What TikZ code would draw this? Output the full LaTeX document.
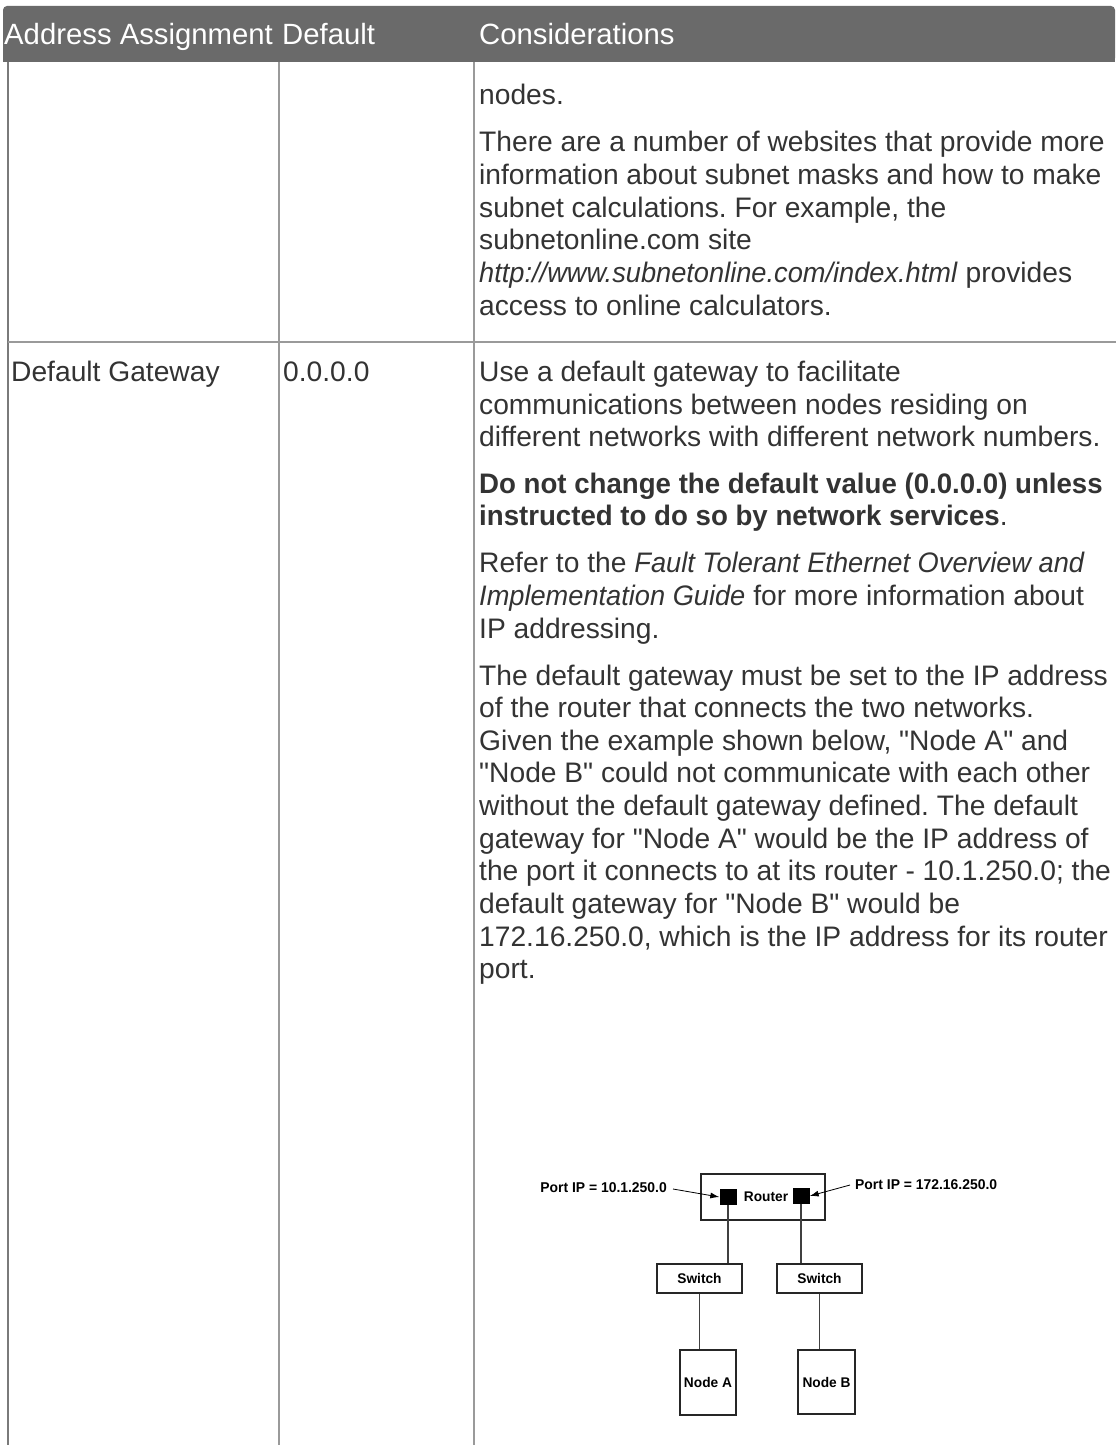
\documentclass[tikz,border=0pt]{standalone}
\usepackage{fontspec}
\setmainfont{Liberation Sans}[Ligatures=TeXOff,
  BoldFeatures={FakeStretch=0.98},
  ItalicFeatures={FakeStretch=0.965}]
\usetikzlibrary{arrows.meta}
\frenchspacing

\definecolor{hdrgray}{HTML}{6A6A6A}
\definecolor{bodytext}{HTML}{333333}
\definecolor{rulegray}{HTML}{9A9A9A}
\definecolor{edgegray}{HTML}{7A7A7A}

\tikzset{
  bodyline/.style={anchor=base west, inner sep=0pt, text=bodytext,
    font=\fontsize{28.2}{33}\selectfont},
  hdrline/.style={anchor=base west, inner sep=0pt, text=white,
    font=\fontsize{29.3}{33}\selectfont},
  gridrule/.style={draw=rulegray, line width=1.1pt},
  netbox/.style={draw=black!85, line width=1.2pt, fill=white, inner sep=0pt,
    font=\fontsize{14}{16}\selectfont\bfseries},
  portsq/.style={fill=black, inner sep=0pt, minimum width=17pt, minimum height=16pt},
  netlink/.style={draw=black!75, line width=1.2pt},
  portarrow/.style={draw=black, line width=0.8pt, -{Latex[length=9pt,width=6pt]}},
  netlabel/.style={inner sep=0pt, font=\fontsize{14.2}{16}\selectfont\bfseries},
}

\begin{document}
\begin{tikzpicture}[x=1pt, y=-1pt]
\useasboundingbox (0,0) rectangle (1116,1445);
\fill[white] (0,0) rectangle (1116,1445);

% header band
\fill[hdrgray, rounded corners=4pt] (3,62) -- (3,6) -- (1115,6) -- (1115,62) [sharp corners] -- cycle;
\fill[hdrgray] (3,40) rectangle (1115,62);
\node[hdrline] (h1) at (4,45) {Address Assignment};
\node[hdrline] (h2) at (282,45) {Default};
\node[hdrline] (h3) at (479,45) {Considerations};

% table rules
\draw[draw=edgegray, line width=1.8pt] (8,62) -- (8,1445);
\draw[gridrule] (279,62) -- (279,1445);
\draw[gridrule] (474,62) -- (474,1445);
\draw[gridrule] (8,342) -- (1116,342);

% first row (continued from previous page)
\node[bodyline] (r1a) at (479,104) {nodes.};
\node[bodyline] (r1b) at (479,151) {There are a number of websites that provide more};
\node[bodyline] (r1c) at (479,184) {information about subnet masks and how to make};
\node[bodyline] (r1d) at (479,217) {subnet calculations. For example, the};
\node[bodyline] (r1e) at (479,249) {subnetonline.com site};
\node[bodyline] (r1f) at (479,282) {\textit{http://www.subnetonline.com/index.html} provides};
\node[bodyline] (r1g) at (479,315) {access to online calculators.};

% default gateway row
\node[bodyline] (c1) at (11,381) {Default Gateway};
\node[bodyline] (c2) at (283,381) {0.0.0.0};
\node[bodyline] (p1) at (479,381) {Use a default gateway to facilitate};
\node[bodyline] (p2) at (479,414) {communications between nodes residing on};
\node[bodyline] (p3) at (479,446) {different networks with different network numbers.};
\node[bodyline] (p4) at (479,493) {\textbf{Do not change the default value (0.0.0.0) unless}};
\node[bodyline] (p5) at (479,525) {\textbf{instructed to do so by network services}.};
\node[bodyline] (p6) at (479,572) {Refer to the \textit{Fault Tolerant Ethernet Overview and}};
\node[bodyline] (p7) at (479,605) {\textit{Implementation Guide} for more information about};
\node[bodyline] (p8) at (479,638) {IP addressing.};
\node[bodyline] (p9) at (479,685) {The default gateway must be set to the IP address};
\node[bodyline] (p10) at (479,717) {of the router that connects the two networks.};
\node[bodyline] (p11) at (479,750) {Given the example shown below, "Node A" and};
\node[bodyline] (p12) at (479,782) {"Node B" could not communicate with each other};
\node[bodyline] (p13) at (479,815) {without the default gateway defined. The default};
\node[bodyline] (p14) at (479,848) {gateway for "Node A" would be the IP address of};
\node[bodyline] (p15) at (479,880) {the port it connects to at its router - 10.1.250.0; the};
\node[bodyline] (p16) at (479,913) {default gateway for "Node B" would be};
\node[bodyline] (p17) at (479,946) {172.16.250.0, which is the IP address for its router};
\node[bodyline] (p18) at (479,978) {port.};

% network example
\node[netbox, minimum width=124pt, minimum height=46pt] (router) at (763,1197) {\hspace*{6pt}Router};
\node[portsq] (portA) at (728,1197) {};
\node[portsq] (portB) at (801,1196) {};
\node[netlabel, anchor=east] (lblA) at (667,1188) {Port IP = 10.1.250.0};
\node[netlabel, anchor=west] (lblB) at (855,1185) {Port IP = 172.16.250.0};
\coordinate (tailA) at (673,1189);
\coordinate (tailB) at (850,1185);
\draw[portarrow] (tailA) -- (portA.west);
\draw[portarrow] (tailB) -- (portB.east);

\node[netbox, minimum width=85pt, minimum height=29pt] (swA) at (699.5,1278.5) {Switch};
\node[netbox, minimum width=85pt, minimum height=29pt] (swB) at (819.5,1278.5) {Switch};
\node[netbox, minimum width=56pt, minimum height=65pt] (nodeA) at (708,1382.5) {Node A};
\node[netbox, minimum width=57pt, minimum height=64pt] (nodeB) at (826.5,1382) {Node B};

\draw[netlink] (portA.south) -- (portA.south |- swA.north);
\draw[netlink] (portB.south) -- (portB.south |- swB.north);
\draw[netlink] (swA.south) -- (swA.south |- nodeA.north);
\draw[netlink] (swB.south) -- (swB.south |- nodeB.north);
\end{tikzpicture}
\end{document}
